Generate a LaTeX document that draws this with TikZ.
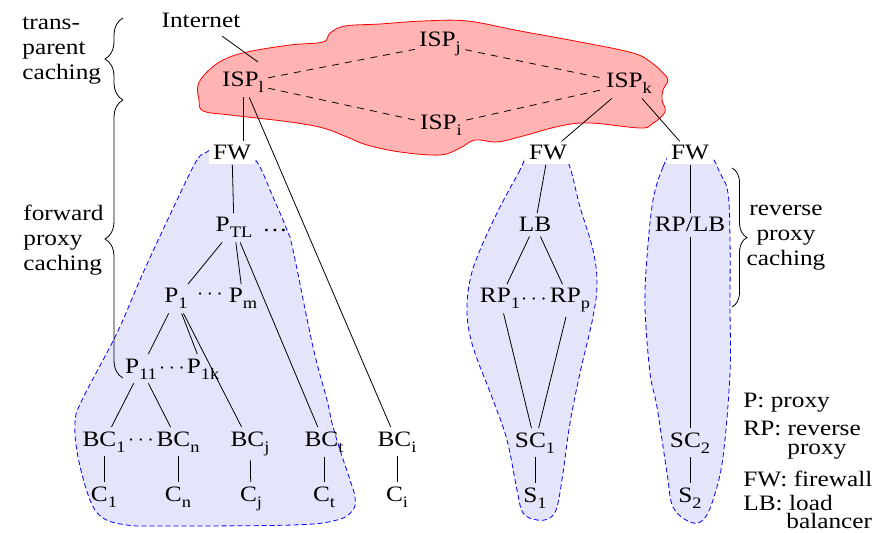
\documentclass[tikz,border=0pt]{standalone}
\usepackage{fontspec}
\setmainfont{Liberation Serif}[FakeStretch=1.15]
\usetikzlibrary{decorations.pathreplacing}
\newcommand{\subs}[1]{\raisebox{-3pt}{\footnotesize #1}}
\definecolor{cloudpink}{RGB}{255,179,179}
\definecolor{regionblue}{RGB}{228,228,250}
\begin{document}
\begin{tikzpicture}[x=0.5pt,y=-0.5pt,
  every node/.style={font=\fontsize{11}{12.5}\selectfont},
  box/.style={anchor=base,inner sep=2pt},
  fwbox/.style={box,fill=white},
  dotsnode/.style={inner sep=0pt},
  region/.style={draw=blue,fill=regionblue,dash pattern=on 2.5pt off 1.5pt},
  peer/.style={dash pattern=on 3.5pt off 3pt},
  lbl/.style={inner sep=0pt,align=left},
  legend/.style={anchor=base west,inner sep=0pt},
  curly/.style={decorate,decoration={brace,amplitude=#1}}]
 \useasboundingbox (0,0) rectangle (892,533);
 % Internet cloud
 \draw[red,fill=cloudpink] plot[smooth cycle,tension=0.6] coordinates {(198,85) (207,72) (223,60) (247,52) (290,45) (323,42) (330,33) (345,26) (380,24) (423,21) (467,21) (520,31) (580,42) (633,53) (652,63) (663,73) (668,80) (663,90) (662,100) (665,112) (652,124) (640,128) (590,123) (560,126) (523,136) (497,142) (475,140) (460,148) (440,155) (400,152) (367,145) (347,137) (323,128) (290,122) (230,115) (203,111) (199,100)};
 % regions
 \draw[region] plot[smooth cycle,tension=0.6] coordinates {(207,152) (197,160) (177,200) (143,273) (117,333) (82,400) (75,423) (78,457) (90,500) (103,518) (127,525) (160,526) (293,525) (337,520) (353,510) (355,497) (350,480) (340,450) (332,423) (327,400) (313,347) (293,250) (287,230) (273,197) (257,162) (240,150) (215,148)};
 \draw[region] plot[smooth cycle,tension=0.6] coordinates {(530,150) (520,170) (500,207) (480,250) (470,280) (467,313) (473,347) (493,400) (507,440) (517,490) (523,513) (537,520) (550,518) (557,507) (563,473) (570,423) (580,373) (593,317) (597,283) (593,250) (580,207) (567,160) (548,147)};
 \draw[region] plot[smooth cycle,tension=0.6] coordinates {(672,153) (663,167) (653,200) (647,257) (645,307) (650,373) (657,407) (667,473) (673,507) (690,522) (703,520) (713,500) (723,457) (730,373) (730,307) (730,240) (728,193) (720,173) (710,155) (690,147)};
 % ISPs
 \node[box] (Internet) at (201,28) {Internet};
 \coordinate (inet) at (258,62);
 \node[box] (ISPl) at (243,87) {ISP\subs{l}};
 \node[box] (ISPj) at (440,47) {ISP\subs{j}};
 \node[box] (ISPi) at (441,130) {ISP\subs{i}};
 \node[box] (ISPk) at (629,88) {ISP\subs{k}};
 % firewalls
 \node[fwbox] (FWa) at (232,160) {FW};
 \node[fwbox] (FWb) at (548,160) {FW};
 \node[fwbox] (FWc) at (690,160) {FW};
 % forward proxies and clients
 \node[box] (PTL) at (234,232) {P\subs{TL}};
 \node[box] (dTL) at (275,232) {\dots};
 \node[box] (Pone) at (176,303) {P\subs{1}};
 \node[dotsnode] (dP) at (210,295) {$\cdots$};
 \node[box] (Pm) at (243,303) {P\subs{m}};
 \node[box] (Poneone) at (141,373) {P\subs{11}};
 \node[dotsnode] (dPone) at (172,369) {$\cdots$};
 \node[box] (Ponek) at (203,373) {P\subs{1k}};
 \node[box] (BCone) at (104,446) {BC\subs{1}};
 \node[dotsnode] (dBC) at (141,441) {$\cdots$};
 \node[box] (BCn) at (178,446) {BC\subs{n}};
 \node[box] (BCj) at (250,446) {BC\subs{j}};
 \node[box] (BCt) at (324,446) {BC\subs{t}};
 \node[box] (BCi) at (397,446) {BC\subs{i}};
 \node[box] (Cone) at (104,501) {C\subs{1}};
 \node[box] (Cn) at (178,501) {C\subs{n}};
 \node[box] (Cj) at (251,501) {C\subs{j}};
 \node[box] (Ct) at (324,501) {C\subs{t}};
 \node[box] (Ci) at (397,501) {C\subs{i}};
 % reverse proxies and servers
 \node[box] (LB) at (535,232) {LB};
 \node[box] (RPone) at (500,303) {RP\subs{1}};
 \node[dotsnode] (dRP) at (534,300) {$\cdots$};
 \node[box] (RPp) at (570,303) {RP\subs{p}};
 \node[box] (SCone) at (535,447) {SC\subs{1}};
 \node[box] (Sone) at (535,502) {S\subs{1}};
 \node[box] (RPLB) at (690,232) {RP/LB};
 \node[box] (SCtwo) at (690,447) {SC\subs{2}};
 \node[box] (Stwo) at (690,502) {S\subs{2}};
 % links
 \draw[shorten <=3pt] (Internet) -- (inet);
 \draw[peer] (ISPl) -- (ISPj) -- (ISPk);
 \draw[peer] (ISPl) -- (ISPi) -- (ISPk);
 \draw (ISPl.south) -- (ISPl.south |- FWa.north);
 \draw (ISPl) -- (BCi);
 \draw (ISPk) -- (FWb);
 \draw (ISPk) -- (FWc);
 \draw (FWa) -- (PTL);
 \draw (PTL) -- (Pone);
 \draw (PTL) -- (Pm);
 \draw (PTL) -- (BCt);
 \draw (Pone) -- (Poneone);
 \draw (Pone) -- (Ponek);
 \draw (Pone) -- (BCj);
 \draw (Poneone) -- (BCone);
 \draw (Poneone) -- (BCn);
 \draw (BCone) -- (Cone);
 \draw (BCn) -- (Cn);
 \draw (BCj) -- (Cj);
 \draw (BCt) -- (Ct);
 \draw (BCi) -- (Ci);
 \draw (FWb) -- (LB);
 \draw (LB) -- (RPone);
 \draw (LB) -- (RPp);
 \draw (RPone) -- (SCone);
 \draw (RPp) -- (SCone);
 \draw (SCone) -- (Sone);
 \draw (FWc) -- (RPLB);
 \draw (RPLB) -- (SCtwo);
 \draw (SCtwo) -- (Stwo);
 % braces and their labels
 \draw[curly=9pt] (123,100) -- (123,18);
 \draw[curly=9pt] (123,378) -- (123,100);
 \draw[curly=7.5pt] (732,168) -- (732,307);
 \node[lbl,anchor=west] (transp) at (22,51) {trans-\\parent\\caching};
 \node[lbl,anchor=west] (fwd) at (23,240) {forward\\proxy\\caching};
 \node[lbl,align=center] (rev) at (786,238) {reverse\\proxy\\caching};
 % legend
 \node[legend] (legP) at (743,408) {P: proxy};
 \node[legend] (legRP) at (743,435) {RP: reverse};
 \node[legend] (legRPb) at (787,454) {proxy};
 \node[legend] (legFW) at (743,486) {FW: firewall};
 \node[legend] (legLB) at (743,510) {LB: load};
 \node[legend] (legLBb) at (786,528) {balancer};
\end{tikzpicture}
\end{document}
